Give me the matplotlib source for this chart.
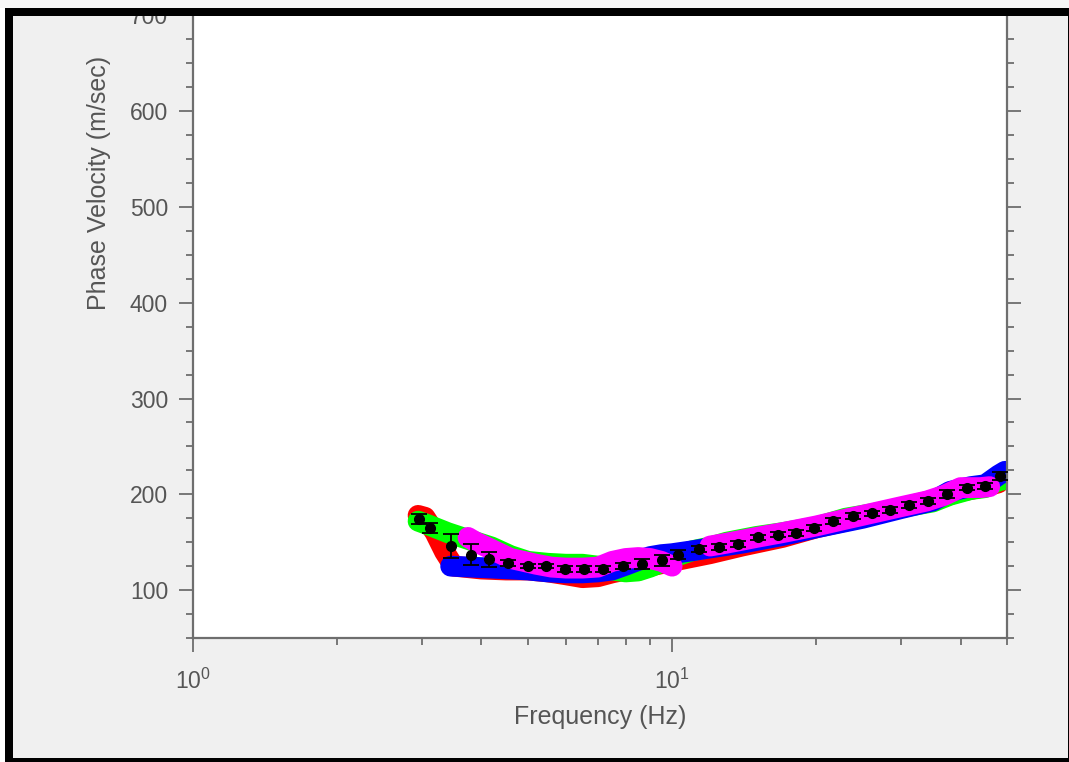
import numpy as np
import matplotlib
matplotlib.use("Agg")
import matplotlib.pyplot as plt
from matplotlib.patches import Rectangle
from matplotlib.ticker import MultipleLocator, LogLocator, NullFormatter

plt.rcParams['font.family'] = ['Liberation Sans', 'DejaVu Sans']

# ---- data ----
red_f = [2.95, 3.05, 3.2, 3.35, 3.5, 4.0, 4.5, 5.0, 5.5, 6.0, 6.5, 7.0, 7.5, 8.0, 9.0,
         10, 12, 14, 17, 20, 25, 30, 35, 40, 45, 48]
red_v = [178, 176, 160, 140, 125, 122, 121, 121, 119, 116, 113, 114, 118, 121, 125,
         130, 138, 146, 155, 165, 176, 186, 194, 203, 208, 212]

green_f = [2.95, 3.1, 3.4, 3.8, 4.2, 4.6, 5.0, 5.5, 6.0, 6.5, 7.0, 7.5, 8.0, 8.5, 9.0,
           9.5, 10, 11, 12, 13, 15, 17, 20, 23, 27, 30, 35, 38, 42, 45, 48, 50]
green_v = [172, 168, 160, 152, 145, 136, 130, 128, 127, 127, 125, 121, 119, 120, 124,
           129, 134, 141, 145, 150, 156, 160, 166, 175, 181, 186, 192, 199, 205, 207, 214, 216]

blue_f = [3.45, 3.8, 4.2, 4.6, 5.0, 5.5, 6.0, 6.5, 7.0, 7.5, 8.0, 8.5, 9.0, 9.5, 10,
          11, 12, 14, 17, 20, 25, 30, 35, 38, 42, 45, 48, 49.5]
blue_v = [125, 124, 123, 122, 121, 119, 118, 118, 119, 121, 126, 131, 135, 137, 138,
          141, 144, 149, 157, 165, 175, 185, 193, 203, 208, 210, 220, 224]

magenta_f = [3.75, 3.9, 4.1, 4.3, 4.6, 4.9, 5.2, 5.6, 6.0, 6.5, 7.0, 7.5, 8.0, 8.5, 9.0,
             9.5, 10.0, np.nan, 12, 13, 15, 17, 20, 23, 26, 30, 34, 37, 40, 44, 46]
magenta_v = [155, 150, 145, 140, 133, 130, 127, 124, 123, 123, 124, 130, 133, 134, 133,
             130, 125, np.nan, 146, 149, 155, 160, 167, 174, 180, 187, 193, 199, 207, 207, 208]

mean_f = [2.96, 3.13, 3.45, 3.80, 4.14, 4.54, 5.0, 5.45, 5.98, 6.56, 7.19, 7.88, 8.65,
          9.52, 10.3, 11.4, 12.5, 13.7, 15.1, 16.6, 18.1, 19.8, 21.7, 23.8, 26.1, 28.5,
          31.2, 34.2, 37.5, 41.2, 45.0, 48.4]
mean_v = [174, 165, 146, 137, 132, 128, 125, 125, 122, 122, 122, 125, 127, 131, 137,
          143, 145, 148, 155, 158, 160, 165, 172, 177, 180, 184, 189, 193, 200, 207, 209, 219]
mean_err = [5, 5, 13, 11, 8, 3, 2, 2, 3, 3, 3, 3, 5, 6, 5, 3, 3, 3, 3, 3, 3, 3, 3, 3,
            3, 3, 3, 3, 4, 3, 3, 4]

series = [(red_f, red_v, '#ff0000'), (green_f, green_v, '#00ff00'),
          (blue_f, blue_v, '#0000ff'), (magenta_f, magenta_v, '#ff00ff')]

W, H = 1069, 762
fig = plt.figure(figsize=(W / 100, H / 100), dpi=100, facecolor='white')

def px_rect(x0, y0, x1, y1, color, z):
    # pixel coords measured from the top-left
    r = Rectangle((x0 / W, 1 - y1 / H), (x1 - x0) / W, (y1 - y0) / H,
                  transform=fig.transFigure, facecolor=color, edgecolor='none', zorder=z)
    fig.add_artist(r)

px_rect(5, 8, 1069, 762, 'black', -10)
px_rect(13, 16, 1068, 758, '#f0f0f0', -9)

# axes extend above the (cropped) figure top
ax_left, ax_right, ax_bottom, ax_top = 193, 1007, 638, -272
ax = fig.add_axes([ax_left / W, 1 - ax_bottom / H, (ax_right - ax_left) / W,
                   (ax_bottom - ax_top) / H])
ax.set_facecolor('white')
ax.set_zorder(0)

for f, v, c in series:
    ax.plot(f, v, color=c, lw=15, solid_capstyle='round', solid_joinstyle='round')

ax.errorbar(mean_f, mean_v, yerr=mean_err, fmt='o', color='black', ms=7,
            capsize=5.5, elinewidth=1.3, capthick=1.3, zorder=10)

ax.set_xscale('log')
ax.set_xlim(1, 50)
ax.set_ylim(50, 1000)
ax.yaxis.set_major_locator(MultipleLocator(100))
ax.yaxis.set_minor_locator(MultipleLocator(25))
ax.xaxis.set_major_locator(LogLocator(base=10, numticks=10))
ax.xaxis.set_minor_locator(LogLocator(base=10, subs=np.arange(2, 10), numticks=20))
ax.xaxis.set_minor_formatter(NullFormatter())

gray = '#6e6e6e'
for s in ax.spines.values():
    s.set_color(gray)
    s.set_linewidth(1.6)
ax.tick_params(which='both', direction='out', colors=gray, labelcolor='#555555',
               right=True, top=True, width=1.3)
ax.tick_params(which='major', length=10, labelsize=16.5, pad=8)
ax.tick_params(which='minor', length=5)
ax.tick_params(axis='x', which='major', pad=12)

ax.set_xlabel('Frequency (Hz)', fontsize=18, color='#555555', labelpad=8)
ax.set_ylabel('Phase Velocity (m/sec)', fontsize=18, color='#555555', labelpad=4)

# cropped top of the screenshot
px_rect(0, 0, 1069, 8, '#f7f7f7', 20)
px_rect(5, 8, 1069, 16, 'black', 21)

fig.savefig('out.png', dpi=100, facecolor=fig.get_facecolor())
